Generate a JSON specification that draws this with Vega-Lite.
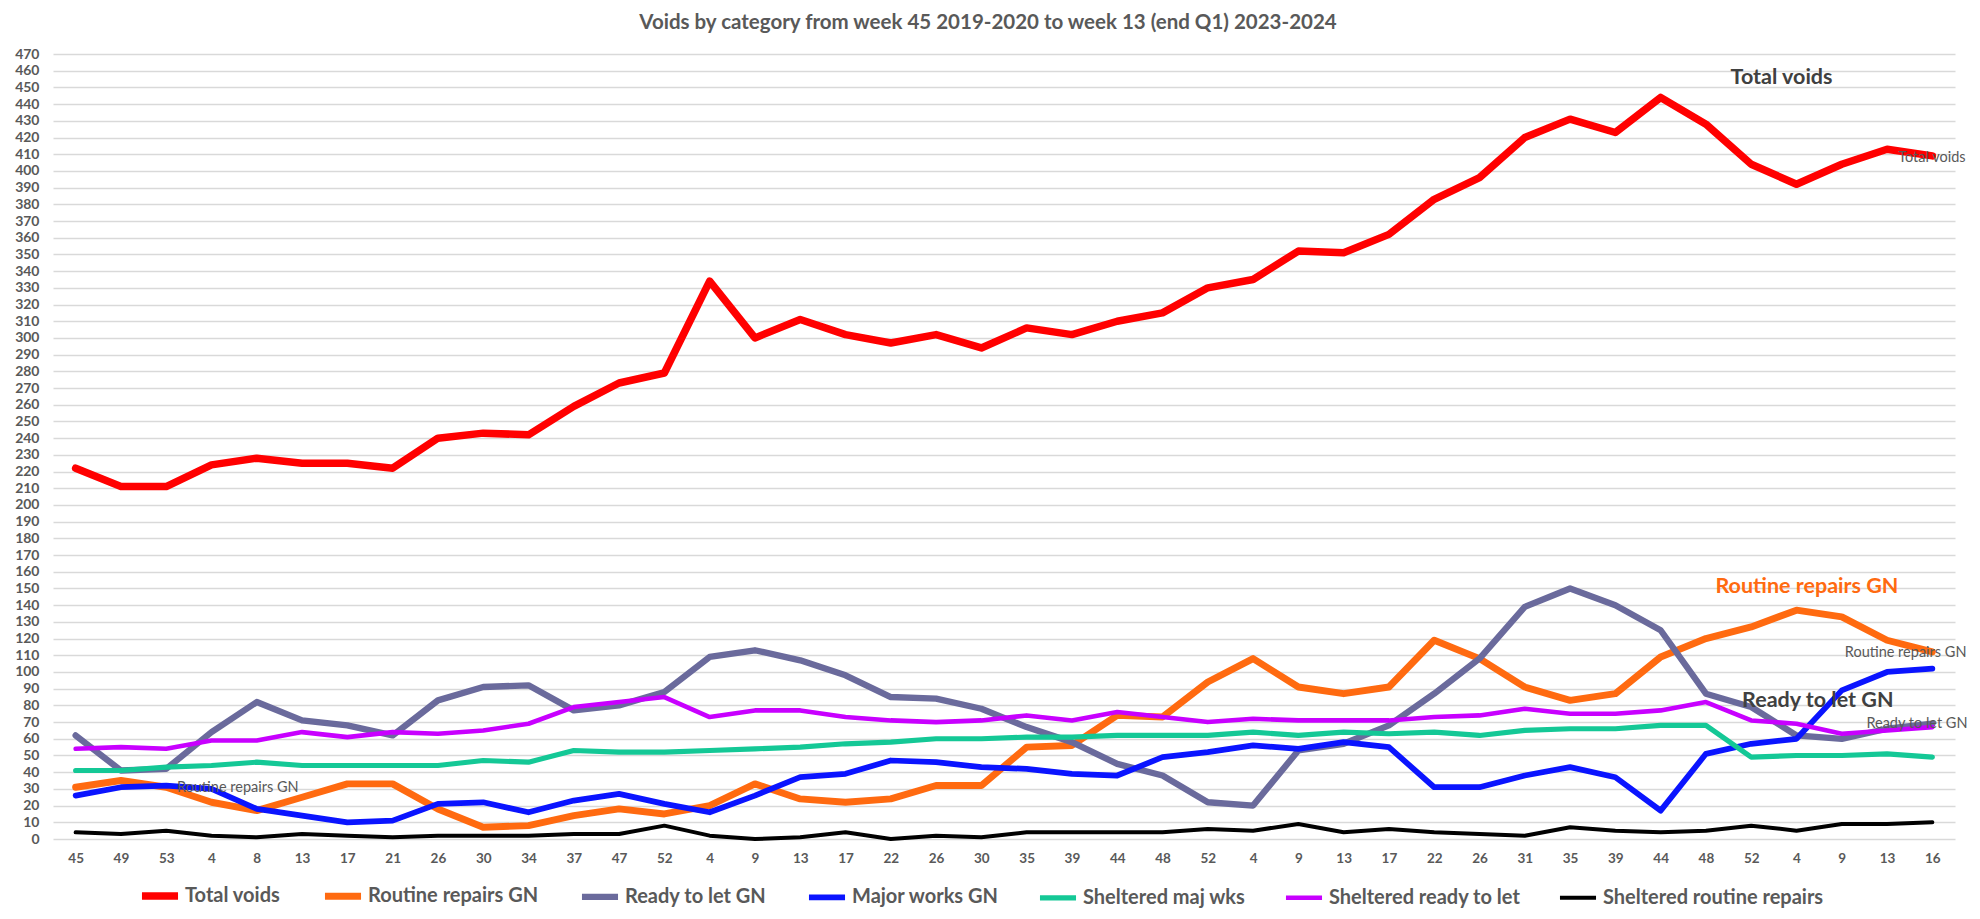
{
  "$schema": "https://vega.github.io/schema/vega-lite/v6.json",
  "width": 1902,
  "height": 785,
  "autosize": {"type": "none"},
  "padding": {"left": 53, "top": 54, "right": 25, "bottom": 80},
  "background": "white",
  "title": {
    "text": "Voids by category from week 45 2019-2020 to week 13 (end Q1) 2023-2024",
    "font": "Lato",
    "fontSize": 20.5,
    "fontWeight": "bold",
    "color": "#595959",
    "anchor": "middle",
    "dx": -16,
    "offset": 14
  },
  "config": {
    "view": {"stroke": null},
    "font": "Lato"
  },
  "data": {
    "values": [
      {"i": 0, "week": "45", "Total voids": 222, "Routine repairs GN": 31, "Ready to let GN": 62, "Major works GN": 26, "Sheltered maj wks": 41, "Sheltered ready to let": 54, "Sheltered routine  repairs": 4},
      {"i": 1, "week": "49", "Total voids": 211, "Routine repairs GN": 35, "Ready to let GN": 41, "Major works GN": 31, "Sheltered maj wks": 41, "Sheltered ready to let": 55, "Sheltered routine  repairs": 3},
      {"i": 2, "week": "53", "Total voids": 211, "Routine repairs GN": 31, "Ready to let GN": 42, "Major works GN": 32, "Sheltered maj wks": 43, "Sheltered ready to let": 54, "Sheltered routine  repairs": 5},
      {"i": 3, "week": "4", "Total voids": 224, "Routine repairs GN": 22, "Ready to let GN": 64, "Major works GN": 30, "Sheltered maj wks": 44, "Sheltered ready to let": 59, "Sheltered routine  repairs": 2},
      {"i": 4, "week": "8", "Total voids": 228, "Routine repairs GN": 17, "Ready to let GN": 82, "Major works GN": 18, "Sheltered maj wks": 46, "Sheltered ready to let": 59, "Sheltered routine  repairs": 1},
      {"i": 5, "week": "13", "Total voids": 225, "Routine repairs GN": 25, "Ready to let GN": 71, "Major works GN": 14, "Sheltered maj wks": 44, "Sheltered ready to let": 64, "Sheltered routine  repairs": 3},
      {"i": 6, "week": "17", "Total voids": 225, "Routine repairs GN": 33, "Ready to let GN": 68, "Major works GN": 10, "Sheltered maj wks": 44, "Sheltered ready to let": 61, "Sheltered routine  repairs": 2},
      {"i": 7, "week": "21", "Total voids": 222, "Routine repairs GN": 33, "Ready to let GN": 62, "Major works GN": 11, "Sheltered maj wks": 44, "Sheltered ready to let": 64, "Sheltered routine  repairs": 1},
      {"i": 8, "week": "26", "Total voids": 240, "Routine repairs GN": 18, "Ready to let GN": 83, "Major works GN": 21, "Sheltered maj wks": 44, "Sheltered ready to let": 63, "Sheltered routine  repairs": 2},
      {"i": 9, "week": "30", "Total voids": 243, "Routine repairs GN": 7, "Ready to let GN": 91, "Major works GN": 22, "Sheltered maj wks": 47, "Sheltered ready to let": 65, "Sheltered routine  repairs": 2},
      {"i": 10, "week": "34", "Total voids": 242, "Routine repairs GN": 8, "Ready to let GN": 92, "Major works GN": 16, "Sheltered maj wks": 46, "Sheltered ready to let": 69, "Sheltered routine  repairs": 2},
      {"i": 11, "week": "37", "Total voids": 259, "Routine repairs GN": 14, "Ready to let GN": 77, "Major works GN": 23, "Sheltered maj wks": 53, "Sheltered ready to let": 79, "Sheltered routine  repairs": 3},
      {"i": 12, "week": "47", "Total voids": 273, "Routine repairs GN": 18, "Ready to let GN": 80, "Major works GN": 27, "Sheltered maj wks": 52, "Sheltered ready to let": 82, "Sheltered routine  repairs": 3},
      {"i": 13, "week": "52", "Total voids": 279, "Routine repairs GN": 15, "Ready to let GN": 88, "Major works GN": 21, "Sheltered maj wks": 52, "Sheltered ready to let": 85, "Sheltered routine  repairs": 8},
      {"i": 14, "week": "4", "Total voids": 334, "Routine repairs GN": 20, "Ready to let GN": 109, "Major works GN": 16, "Sheltered maj wks": 53, "Sheltered ready to let": 73, "Sheltered routine  repairs": 2},
      {"i": 15, "week": "9", "Total voids": 300, "Routine repairs GN": 33, "Ready to let GN": 113, "Major works GN": 26, "Sheltered maj wks": 54, "Sheltered ready to let": 77, "Sheltered routine  repairs": 0},
      {"i": 16, "week": "13", "Total voids": 311, "Routine repairs GN": 24, "Ready to let GN": 107, "Major works GN": 37, "Sheltered maj wks": 55, "Sheltered ready to let": 77, "Sheltered routine  repairs": 1},
      {"i": 17, "week": "17", "Total voids": 302, "Routine repairs GN": 22, "Ready to let GN": 98, "Major works GN": 39, "Sheltered maj wks": 57, "Sheltered ready to let": 73, "Sheltered routine  repairs": 4},
      {"i": 18, "week": "22", "Total voids": 297, "Routine repairs GN": 24, "Ready to let GN": 85, "Major works GN": 47, "Sheltered maj wks": 58, "Sheltered ready to let": 71, "Sheltered routine  repairs": 0},
      {"i": 19, "week": "26", "Total voids": 302, "Routine repairs GN": 32, "Ready to let GN": 84, "Major works GN": 46, "Sheltered maj wks": 60, "Sheltered ready to let": 70, "Sheltered routine  repairs": 2},
      {"i": 20, "week": "30", "Total voids": 294, "Routine repairs GN": 32, "Ready to let GN": 78, "Major works GN": 43, "Sheltered maj wks": 60, "Sheltered ready to let": 71, "Sheltered routine  repairs": 1},
      {"i": 21, "week": "35", "Total voids": 306, "Routine repairs GN": 55, "Ready to let GN": 67, "Major works GN": 42, "Sheltered maj wks": 61, "Sheltered ready to let": 74, "Sheltered routine  repairs": 4},
      {"i": 22, "week": "39", "Total voids": 302, "Routine repairs GN": 56, "Ready to let GN": 58, "Major works GN": 39, "Sheltered maj wks": 61, "Sheltered ready to let": 71, "Sheltered routine  repairs": 4},
      {"i": 23, "week": "44", "Total voids": 310, "Routine repairs GN": 74, "Ready to let GN": 45, "Major works GN": 38, "Sheltered maj wks": 62, "Sheltered ready to let": 76, "Sheltered routine  repairs": 4},
      {"i": 24, "week": "48", "Total voids": 315, "Routine repairs GN": 73, "Ready to let GN": 38, "Major works GN": 49, "Sheltered maj wks": 62, "Sheltered ready to let": 73, "Sheltered routine  repairs": 4},
      {"i": 25, "week": "52", "Total voids": 330, "Routine repairs GN": 94, "Ready to let GN": 22, "Major works GN": 52, "Sheltered maj wks": 62, "Sheltered ready to let": 70, "Sheltered routine  repairs": 6},
      {"i": 26, "week": "4", "Total voids": 335, "Routine repairs GN": 108, "Ready to let GN": 20, "Major works GN": 56, "Sheltered maj wks": 64, "Sheltered ready to let": 72, "Sheltered routine  repairs": 5},
      {"i": 27, "week": "9", "Total voids": 352, "Routine repairs GN": 91, "Ready to let GN": 53, "Major works GN": 54, "Sheltered maj wks": 62, "Sheltered ready to let": 71, "Sheltered routine  repairs": 9},
      {"i": 28, "week": "13", "Total voids": 351, "Routine repairs GN": 87, "Ready to let GN": 57, "Major works GN": 58, "Sheltered maj wks": 64, "Sheltered ready to let": 71, "Sheltered routine  repairs": 4},
      {"i": 29, "week": "17", "Total voids": 362, "Routine repairs GN": 91, "Ready to let GN": 68, "Major works GN": 55, "Sheltered maj wks": 63, "Sheltered ready to let": 71, "Sheltered routine  repairs": 6},
      {"i": 30, "week": "22", "Total voids": 383, "Routine repairs GN": 119, "Ready to let GN": 87, "Major works GN": 31, "Sheltered maj wks": 64, "Sheltered ready to let": 73, "Sheltered routine  repairs": 4},
      {"i": 31, "week": "26", "Total voids": 396, "Routine repairs GN": 108, "Ready to let GN": 108, "Major works GN": 31, "Sheltered maj wks": 62, "Sheltered ready to let": 74, "Sheltered routine  repairs": 3},
      {"i": 32, "week": "31", "Total voids": 420, "Routine repairs GN": 91, "Ready to let GN": 139, "Major works GN": 38, "Sheltered maj wks": 65, "Sheltered ready to let": 78, "Sheltered routine  repairs": 2},
      {"i": 33, "week": "35", "Total voids": 431, "Routine repairs GN": 83, "Ready to let GN": 150, "Major works GN": 43, "Sheltered maj wks": 66, "Sheltered ready to let": 75, "Sheltered routine  repairs": 7},
      {"i": 34, "week": "39", "Total voids": 423, "Routine repairs GN": 87, "Ready to let GN": 140, "Major works GN": 37, "Sheltered maj wks": 66, "Sheltered ready to let": 75, "Sheltered routine  repairs": 5},
      {"i": 35, "week": "44", "Total voids": 444, "Routine repairs GN": 109, "Ready to let GN": 125, "Major works GN": 17, "Sheltered maj wks": 68, "Sheltered ready to let": 77, "Sheltered routine  repairs": 4},
      {"i": 36, "week": "48", "Total voids": 428, "Routine repairs GN": 120, "Ready to let GN": 87, "Major works GN": 51, "Sheltered maj wks": 68, "Sheltered ready to let": 82, "Sheltered routine  repairs": 5},
      {"i": 37, "week": "52", "Total voids": 404, "Routine repairs GN": 127, "Ready to let GN": 79, "Major works GN": 57, "Sheltered maj wks": 49, "Sheltered ready to let": 71, "Sheltered routine  repairs": 8},
      {"i": 38, "week": "4", "Total voids": 392, "Routine repairs GN": 137, "Ready to let GN": 62, "Major works GN": 60, "Sheltered maj wks": 50, "Sheltered ready to let": 69, "Sheltered routine  repairs": 5},
      {"i": 39, "week": "9", "Total voids": 404, "Routine repairs GN": 133, "Ready to let GN": 60, "Major works GN": 89, "Sheltered maj wks": 50, "Sheltered ready to let": 63, "Sheltered routine  repairs": 9},
      {"i": 40, "week": "13", "Total voids": 413, "Routine repairs GN": 119, "Ready to let GN": 66, "Major works GN": 100, "Sheltered maj wks": 51, "Sheltered ready to let": 65, "Sheltered routine  repairs": 9},
      {"i": 41, "week": "16", "Total voids": 409, "Routine repairs GN": 112, "Ready to let GN": 69, "Major works GN": 102, "Sheltered maj wks": 49, "Sheltered ready to let": 67, "Sheltered routine  repairs": 10}
    ]
  },
  "encoding": {
    "x": {
      "field": "i",
      "type": "quantitative",
      "scale": {"domain": [-0.5, 41.5], "nice": false, "zero": false},
      "axis": {
        "title": null,
        "values": [0,1,2,3,4,5,6,7,8,9,10,11,12,13,14,15,16,17,18,19,20,21,22,23,24,25,26,27,28,29,30,31,32,33,34,35,36,37,38,39,40,41],
        "labelExpr": "['45','49','53','4','8','13','17','21','26','30','34','37','47','52','4','9','13','17','22','26','30','35','39','44','48','52','4','9','13','17','22','26','31','35','39','44','48','52','4','9','13','16'][datum.value]",
        "grid": false,
        "ticks": false,
        "domain": false,
        "labelFont": "Lato",
        "labelFontSize": 13.5,
        "labelFontWeight": "bold",
        "labelColor": "#595959",
        "labelPadding": 12,
        "labelFlush": false,
        "labelOverlap": false
      }
    },
    "y": {
      "field": "value",
      "type": "quantitative",
      "scale": {"domain": [0, 470], "nice": false},
      "axis": {
        "title": null,
        "values": [0,10,20,30,40,50,60,70,80,90,100,110,120,130,140,150,160,170,180,190,200,210,220,230,240,250,260,270,280,290,300,310,320,330,340,350,360,370,380,390,400,410,420,430,440,450,460,470],
        "grid": true,
        "gridColor": "#d9d9d9",
        "gridWidth": 1.5,
        "ticks": false,
        "domain": false,
        "labelFont": "Lato",
        "labelFontSize": 14,
        "labelFontWeight": "bold",
        "labelColor": "#595959",
        "labelPadding": 14,
        "labelOverlap": false
      }
    }
  },
  "layer": [
    {
      "transform": [
        {"fold": ["Total voids", "Routine repairs GN", "Ready to let GN", "Major works GN", "Sheltered maj wks", "Sheltered ready to let", "Sheltered routine  repairs"], "as": ["series", "value"]}
      ],
      "mark": {"type": "line", "strokeJoin": "round", "strokeCap": "round"},
      "encoding": {
        "color": {
          "field": "series",
          "type": "nominal",
          "scale": {
            "domain": ["Total voids", "Routine repairs GN", "Ready to let GN", "Major works GN", "Sheltered maj wks", "Sheltered ready to let", "Sheltered routine  repairs"],
            "range": ["#ff0000", "#ff6a10", "#6a6a9c", "#0a14ff", "#14c896", "#c800ff", "#000000"]
          },
          "legend": {
            "title": null,
            "orient": "none",
            "legendX": 85,
            "legendY": 820,
            "direction": "horizontal",
            "columns": 7,
            "symbolType": "stroke",
            "symbolSize": 1300,
            "labelFont": "Lato",
            "labelFontSize": 20,
            "labelFontWeight": "bold",
            "labelColor": "#595959",
            "labelOffset": 3,
            "columnPadding": 30,
            "labelLimit": 400
          }
        },
        "strokeWidth": {
          "field": "series",
          "type": "nominal",
          "scale": {
            "domain": ["Total voids", "Routine repairs GN", "Ready to let GN", "Major works GN", "Sheltered maj wks", "Sheltered ready to let", "Sheltered routine  repairs"],
            "range": [7.5, 4, 4.5, 4, 4, 4, 4]
          },
          "legend": {
            "title": null,
            "orient": "none",
            "legendX": 85,
            "legendY": 820,
            "direction": "horizontal",
            "columns": 7,
            "symbolType": "stroke",
            "symbolSize": 1300,
            "labelFont": "Lato",
            "labelFontSize": 20,
            "labelFontWeight": "bold",
            "labelColor": "#595959",
            "labelOffset": 3,
            "columnPadding": 30,
            "labelLimit": 400
          }
        }
      }
    },
    {
      "data": {
        "values": [
          {"label": "Total voids", "i": 37.67, "value": 455.7, "kind": "big", "col": "#404040"},
          {"label": "Routine repairs GN", "i": 38.23, "value": 151, "kind": "big", "col": "#ff6a10"},
          {"label": "Ready to let GN", "i": 38.47, "value": 82.6, "kind": "big", "col": "#404040"},
          {"label": "Total voids", "i": 40.99, "value": 408, "kind": "small", "col": "#595959"},
          {"label": "Routine repairs GN", "i": 40.41, "value": 111.4, "kind": "small", "col": "#595959"},
          {"label": "Ready to let GN", "i": 40.66, "value": 68.9, "kind": "small", "col": "#595959"},
          {"label": "Routine repairs GN", "i": 3.58, "value": 30.5, "kind": "small", "col": "#595959"}
        ]
      },
      "layer": [
        {
          "transform": [{"filter": "datum.kind === 'big'"}],
          "mark": {"type": "text", "font": "Lato", "fontSize": 21.5, "fontWeight": "bold", "align": "center", "baseline": "middle"},
          "encoding": {
            "text": {"field": "label"},
            "color": {"field": "col", "type": "nominal", "scale": null}
          }
        },
        {
          "transform": [{"filter": "datum.kind === 'small'"}],
          "mark": {"type": "text", "font": "Lato", "fontSize": 14.5, "align": "center", "baseline": "middle"},
          "encoding": {
            "text": {"field": "label"},
            "color": {"field": "col", "type": "nominal", "scale": null}
          }
        }
      ]
    }
  ]
}
